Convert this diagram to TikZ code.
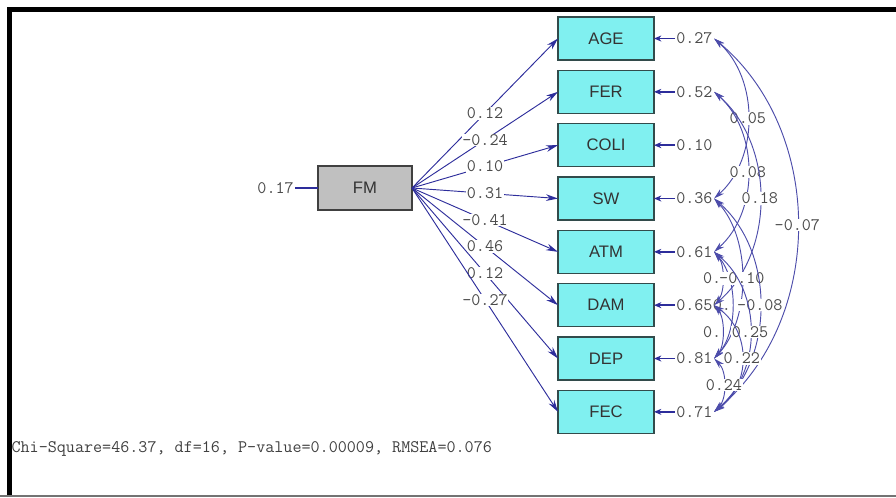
\documentclass[tikz,border=0pt]{standalone}
\usepackage{fontspec}
\setmainfont{Liberation Sans}
\usepackage{tikz}
\usetikzlibrary{arrows.meta,positioning}
\definecolor{pathblue}{RGB}{45,45,155}
\definecolor{boxcyan}{RGB}{128,240,240}
\definecolor{boxedge}{RGB}{50,75,75}
\definecolor{fmgray}{RGB}{192,192,192}
\definecolor{numgray}{RGB}{75,75,75}
\tikzset{
  var/.style={draw=boxedge, line width=0.9pt, fill=boxcyan, minimum width=72pt, minimum height=32.25pt, outer sep=0pt, font=\fontsize{12.5}{14}\selectfont, text=black!80},
  latent/.style={var, draw=black!75, fill=fmgray, minimum width=70.5pt, minimum height=33pt},
  num/.style={font=\ttfamily\fontsize{13.2}{14}\selectfont, text=numgray, inner sep=1pt},
  lbl/.style={num, fill=white, inner sep=0.5pt},
  load/.style={draw=pathblue, line width=0.7pt, -{Stealth[length=9pt,width=5pt]}},
  err/.style={draw=pathblue, line width=1.2pt, -{Stealth[length=5.5pt,width=4.5pt]}},
  cov/.style={draw=pathblue!85, line width=0.7pt, {Stealth[length=8pt,width=4.5pt]}-{Stealth[length=8pt,width=4.5pt]}}
}

\begin{document}
\begin{tikzpicture}[x=0.75pt, y=-0.75pt]
  \useasboundingbox (0,0) rectangle (896,497);
  \draw[line width=3.3pt] (9.5,497) -- (9.5,9.5) -- (896,9.5);
  \draw[black!55, line width=1.2pt] (0,496) -- (896,496);

  % latent factor
  \node[latent] (FM) at (365,188) {FM};
  \node[num, left=17pt of FM] (eFM) {0.17};
  \draw[pathblue, line width=0.8pt] (eFM) -- (FM);

  % indicators
  \node[var] (AGE) at (606,38.5) {AGE};
  \node[var, below=7.75pt of AGE] (FER) {FER};
  \node[var, below=7.75pt of FER] (COLI) {COLI};
  \node[var, below=7.75pt of COLI] (SW) {SW};
  \node[var, below=7.75pt of SW] (ATM) {ATM};
  \node[var, below=7.75pt of ATM] (DAM) {DAM};
  \node[var, below=7.75pt of DAM] (DEP) {DEP};
  \node[var, below=7.75pt of DEP] (FEC) {FEC};

  % error variances
  \node[num, right=15.5pt of AGE] (eAGE) {0.27};
  \node[num, right=15.5pt of FER] (eFER) {0.52};
  \node[num, right=15.5pt of COLI] (eCOLI) {0.10};
  \node[num, right=15.5pt of SW] (eSW) {0.36};
  \node[num, right=15.5pt of ATM] (eATM) {0.61};
  \node[num, right=15.5pt of DAM] (eDAM) {0.65};
  \node[num, right=15.5pt of DEP] (eDEP) {0.81};
  \node[num, right=15.5pt of FEC] (eFEC) {0.71};

  \draw[err] (eAGE) -- (AGE);
  \draw[err] (eFER) -- (FER);
  \draw[err] (eCOLI) -- (COLI);
  \draw[err] (eSW) -- (SW);
  \draw[err] (eATM) -- (ATM);
  \draw[err] (eDAM) -- (DAM);
  \draw[err] (eDEP) -- (DEP);
  \draw[err] (eFEC) -- (FEC);

  % loadings
  \draw[load] (FM.east) -- node[lbl] {0.12} (AGE.west);
  \draw[load] (FM.east) -- node[lbl] {-0.24} (FER.west);
  \draw[load] (FM.east) -- node[lbl] {0.10} (COLI.west);
  \draw[load] (FM.east) -- node[lbl] {0.31} (SW.west);
  \draw[load] (FM.east) -- node[lbl] {-0.41} (ATM.west);
  \draw[load] (FM.east) -- node[lbl] {0.46} (DAM.west);
  \draw[load] (FM.east) -- node[lbl] {0.12} (DEP.west);
  \draw[load] (FM.east) -- node[lbl] {-0.27} (FEC.west);

  % error covariances
  \draw[cov] (eATM.east) .. controls +(11,13) and +(11,-13) .. (eDAM.east) node[pos=.5, lbl, anchor=east] {0.};
  \draw[cov] (eATM.east) .. controls +(24,27) and +(24,-27) .. (eDEP.east) node[pos=.5, lbl, anchor=east] {0.};
  \draw[cov] (eDAM.east) .. controls +(11,13) and +(11,-13) .. (eDEP.east) node[pos=.5, lbl, anchor=east] {0.};
  \draw[cov] (eAGE.east) .. controls +(45,40) and +(45,-40) .. (eSW.east) node[pos=.5, lbl] {0.05};
  \draw[cov] (eFER.east) .. controls +(45,40) and +(45,-40) .. (eATM.east) node[pos=.5, lbl] {0.08};
  \draw[cov] (eFER.east) .. controls +(61,53) and +(61,-53) .. (eDAM.east) node[pos=.5, lbl] {0.18};
  \draw[cov] (eAGE.east) .. controls +(111,93) and +(111,-93) .. (eFEC.east) node[pos=.5, lbl] {-0.07};
  \draw[cov] (eSW.east) .. controls +(37,40) and +(37,-40) .. (eDEP.east) node[pos=.5, lbl] {-0.10};
  \draw[cov] (eSW.east) .. controls +(61,53) and +(61,-53) .. (eFEC.east) node[pos=.5, lbl] {-0.08};
  \draw[cov] (eATM.east) .. controls +(48,40) and +(48,-40) .. (eFEC.east) node[pos=.5, lbl] {0.25};
  \draw[cov] (eDAM.east) .. controls +(37,27) and +(37,-27) .. (eFEC.east) node[pos=.5, lbl] {0.22};
  \draw[cov] (eDEP.east) .. controls +(13,13) and +(13,-13) .. (eFEC.east) node[pos=.5, lbl] {0.24};

  \node[num, anchor=west, text=black!75] (fit) at (10,449) {Chi-Square=46.37, df=16, P-value=0.00009, RMSEA=0.076};
\end{tikzpicture}
\end{document}
